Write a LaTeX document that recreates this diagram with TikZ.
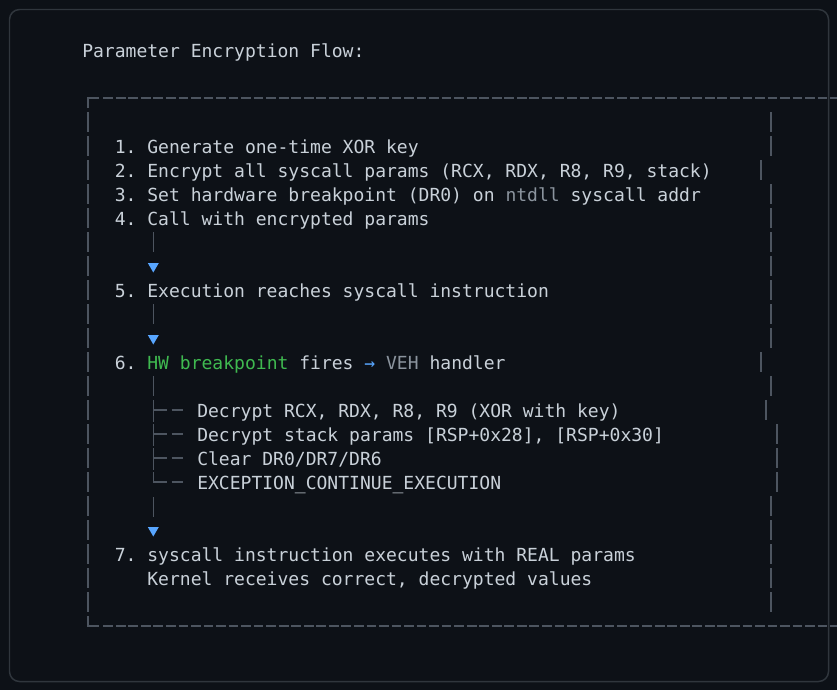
\documentclass[tikz,border=0pt]{standalone}
\usepackage{fontspec}
\newfontfamily\codefont{DejaVu Sans Mono}
\definecolor{bg}{HTML}{0D1117}
\definecolor{frame}{HTML}{30363D}
\definecolor{txt}{HTML}{C9D1D9}
\definecolor{dim}{HTML}{4D5560}
\definecolor{muted}{HTML}{8B949E}
\definecolor{hwgreen}{HTML}{3FB950}
\definecolor{flowblue}{HTML}{58A6FF}
\tikzset{
    codeline/.style={anchor=base west, inner sep=0pt, text=txt,
        font=\codefont\fontsize{13.52}{16}\selectfont\frenchspacing},
    rule/.style={draw=dim, line width=0.9pt},
    ruledash/.style={rule, dash pattern=on 7.3pt off 2.1pt},
}
\begin{document}
\begin{tikzpicture}[x=0.75pt,y=-0.75pt]
    \useasboundingbox (0,0) rectangle (837,690);
    \fill[bg] (0,0) rectangle (837,690);

    % outer box, rows are 24px apart, baseline of row r at 105+24r
    \draw[rule] (88,108) -- (88,98) -- (99,98);
    \draw[ruledash] (103.3,98) -- (837,98);
    \draw[rule] (88,616) -- (88,626) -- (99,626);
    \draw[ruledash] (103.3,626) -- (837,626);
    \foreach \r in {1,...,21}
        \draw[rule] (88,{105+24*\r-17}) -- (88,{105+24*\r+3});
    \foreach \r/\x in {1/771,2/771,3/761,4/771,5/771,6/771,7/771,8/771,9/771,10/771,
                       11/761,12/771,13/766,14/777,15/777,16/777,17/771,18/771,19/771,20/771,21/771}
        \draw[rule] (\x,{105+24*\r-17}) -- (\x,{105+24*\r+3});

    \node[codeline] (title) at (82,57) {Parameter Encryption Flow:};
    \node[codeline] (s1) at (114.55,153) {1. Generate one-time XOR key};
    \node[codeline] (s2) at (114.55,177) {2. Encrypt all syscall params (RCX, RDX, R8, R9, stack)};
    \node[codeline] (s3) at (114.55,201) {3. Set hardware breakpoint (DR0) on \textcolor{muted}{ntdll} syscall addr};
    \node[codeline] (s4) at (114.55,225) {4. Call with encrypted params};
    \node[codeline] (s5) at (114.55,297) {5. Execution reaches syscall instruction};
    \node[codeline] (s6) at (114.55,369) {6. \textcolor{hwgreen}{HW breakpoint} fires \textcolor{flowblue}{→} \textcolor{muted}{VEH} handler};
    \node[codeline] (d1) at (197,417) {Decrypt RCX, RDX, R8, R9 (XOR with key)};
    \node[codeline] (d2) at (197,441) {Decrypt stack params [RSP+0x28], [RSP+0x30]};
    \node[codeline] (d3) at (197,465) {Clear DR0/DR7/DR6};
    \node[codeline] (d4) at (197,489) {EXCEPTION\_CONTINUE\_EXECUTION};
    \node[codeline] (s7) at (114.55,561) {7. syscall instruction executes with REAL params};
    \node[codeline] (s7b) at (147.1,585) {Kernel receives correct, decrypted values};

    % flow arrows
    \foreach \a/\b in {s4/s5,s5/s6} {
        \draw[rule] ([shift={(38.75,7)}]\a.base west) -- ++(0,20);
        \fill[flowblue] ([shift={(38.75,-24.5)}]\b.base west) -- ++(-5.5,-9.5) -- ++(11,0) -- cycle;
    }
    \draw[rule] ([shift={(38.75,7)}]s6.base west) -- ++(0,20);
    \foreach \d in {d1,d2,d3} {
        \draw[rule] ([shift={(-43.7,-17)}]\d.base west) -- ++(0,22);
        \draw[rule] ([shift={(-43.7,-7)}]\d.base west) -- ++(13.2,0) ++(5,0) -- ++(11.5,0);
    }
    \draw[rule] ([shift={(-43.7,-17)}]d4.base west) -- ++(0,10) -- ++(13.2,0) ++(5,0) -- ++(11.5,0);
    \draw[rule] ([shift={(-43.7,8)}]d4.base west) -- ++(0,20);
    \fill[flowblue] ([shift={(38.75,-24.5)}]s7.base west) -- ++(-5.5,-9.5) -- ++(11,0) -- cycle;

    \draw[frame, line width=1.1pt, rounded corners=7.5pt] (9.5,9.5) rectangle (828.5,681.5);
\end{tikzpicture}
\end{document}
